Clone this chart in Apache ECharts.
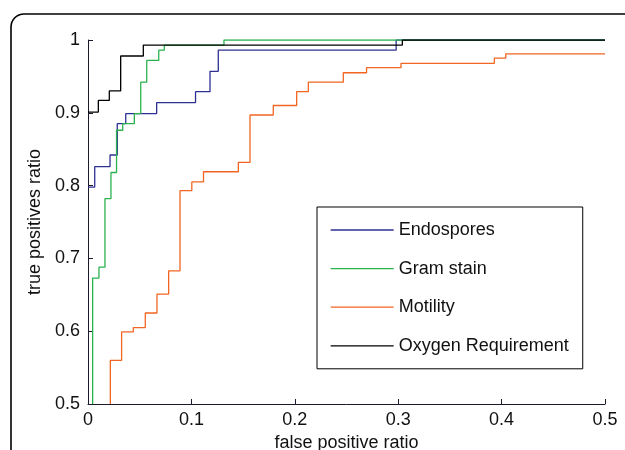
<!DOCTYPE html>
<html>
<head>
<meta charset="utf-8">
<script src="https://cdn.jsdelivr.net/npm/echarts@6/dist/echarts.min.js"></script>
<style>
html,body{margin:0;padding:0;background:#fff;}
#chart{width:625px;height:450px;}
</style>
</head>
<body>
<div id="chart"></div>
<script>
// ROC curves: false positive ratio (x) vs true positives ratio (y), step-wise
const seriesNames = ['Endospores', 'Gram stain', 'Motility', 'Oxygen Requirement'];

const endosporesFPR = [0, 0.0065, 0.0213, 0.0283, 0.0365, 0.0664, 0.104, 0.118, 0.126, 0.298, 0.5];
const endosporesTPR = [0.798, 0.826, 0.842, 0.885, 0.899, 0.914, 0.929, 0.957, 0.986, 1.0, 1.0];

const gramFPR = [0.0045, 0.0045, 0.0106, 0.0164, 0.0222, 0.0276, 0.0336, 0.0448, 0.051, 0.0568, 0.0684, 0.0738, 0.1315, 0.5];
const gramTPR = [0.5, 0.673, 0.688, 0.782, 0.818, 0.876, 0.885, 0.899, 0.942, 0.972, 0.986, 0.993, 1.0, 1.0];

const motilityFPR = [0.0216, 0.0216, 0.0325, 0.0438, 0.0554, 0.0667, 0.078, 0.089, 0.1004, 0.1117, 0.1454, 0.1567, 0.1792, 0.2018, 0.2131, 0.2469, 0.2694, 0.3027, 0.393, 0.404, 0.5];
const motilityTPR = [0.5, 0.560, 0.599, 0.605, 0.625, 0.651, 0.683, 0.793, 0.805, 0.819, 0.832, 0.897, 0.910, 0.929, 0.942, 0.955, 0.962, 0.968, 0.975, 0.981, 0.981];

const oxygenFPR = [0, 0.010, 0.0206, 0.0316, 0.0535, 0.304, 0.5];
const oxygenTPR = [0.901, 0.917, 0.930, 0.978, 0.993, 1.0, 1.0];

const xTicks = [0, 0.1, 0.2, 0.3, 0.4, 0.5];
const yTicks = [0.5, 0.6, 0.7, 0.8, 0.9, 1];

const colors = ['#2e3192', '#2bb24f', '#f26522', '#000000'];

function pairs(xs, ys) { return xs.map((x, i) => [x, ys[i]]); }
const allData = [
  pairs(endosporesFPR, endosporesTPR),
  pairs(gramFPR, gramTPR),
  pairs(motilityFPR, motilityTPR),
  pairs(oxygenFPR, oxygenTPR)
];

const FONT = 'Liberation Sans, Arial, Helvetica, sans-serif';
const chart = echarts.init(document.getElementById('chart'), null, {renderer: 'canvas'});
chart.setOption({
  animation: false,
  backgroundColor: '#ffffff',
  color: colors,
  graphic: [{
    type: 'rect',
    shape: {x: 11, y: 14, width: 720, height: 600, r: 13},
    style: {fill: 'none', stroke: '#000', lineWidth: 1.6},
    z: -10
  }],
  grid: {left: 88, right: 20, top: 40, bottom: 46, containLabel: false, outerBoundsMode: 'none'},
  xAxis: {
    type: 'value', min: xTicks[0], max: xTicks[xTicks.length - 1], interval: 0.1,
    name: 'false positive ratio', nameLocation: 'middle', nameGap: 28,
    nameTextStyle: {fontSize: 18, color: '#111', fontFamily: FONT},
    axisLine: {show: true, lineStyle: {color: '#1a1a2a', width: 1}},
    axisTick: {show: true, inside: true, length: 5, lineStyle: {color: '#1a1a2a'}},
    axisLabel: {fontSize: 18, color: '#111', fontFamily: FONT, margin: 7},
    splitLine: {show: false}
  },
  yAxis: {
    type: 'value', min: yTicks[0], max: yTicks[yTicks.length - 1], interval: 0.1,
    name: 'true positives ratio', nameLocation: 'middle', nameGap: 35,
    nameTextStyle: {fontSize: 18, color: '#111', fontFamily: FONT},
    axisLine: {show: true, lineStyle: {color: '#1a1a2a', width: 1}},
    axisTick: {show: true, inside: true, length: 5, lineStyle: {color: '#1a1a2a'}},
    axisLabel: {fontSize: 18, color: '#111', fontFamily: FONT, margin: 8},
    splitLine: {show: false}
  },
  legend: {
    orient: 'vertical', left: 317, top: 207,
    data: seriesNames,
    itemWidth: 63, itemHeight: 20, itemGap: 18.6,
    padding: [13, 14, 13, 13],
    borderColor: '#000', borderWidth: 1, borderRadius: 0,
    backgroundColor: '#fff',
    itemStyle: {opacity: 0},
    lineStyle: {width: 1.3},
    textStyle: {fontSize: 18, color: '#111', fontFamily: FONT, lineHeight: 20},
    selectedMode: false
  },
  series: seriesNames.map((name, i) => ({
    name: name,
    type: 'line',
    step: 'end',
    symbol: 'none',
    showSymbol: false,
    data: allData[i],
    lineStyle: {width: 1.3, color: colors[i]},
    itemStyle: {color: colors[i]},
    clip: true
  }))
});
</script>
</body>
</html>
